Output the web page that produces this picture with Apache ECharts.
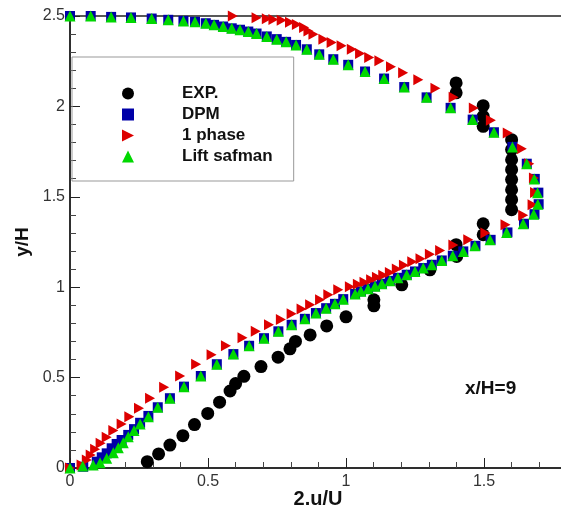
<!DOCTYPE html>
<html>
<head>
<meta charset="utf-8">
<script src="https://cdn.jsdelivr.net/npm/echarts@6/dist/echarts.min.js"></script>
<style>
  html, body { margin: 0; padding: 0; background: #fff; }
  #chart { width: 561px; height: 508px; }
</style>
</head>
<body>
<div id="chart"></div>
<script>
// series names, same order as the legend
const seriesNames = ['EXP.', 'DPM', '1 phase', 'Lift safman']

// EXP. (black circles) [2.u/U, y/H]
const expData = [
  [0.28, 0.035], [0.321, 0.078], [0.362, 0.127], [0.409, 0.179], [0.451, 0.24],
  [0.499, 0.302], [0.542, 0.364], [0.58, 0.426], [0.6, 0.467], [0.63, 0.507],
  [0.692, 0.561], [0.754, 0.613], [0.797, 0.659], [0.817, 0.7], [0.87, 0.736],
  [0.93, 0.786], [1.0, 0.836], [1.101, 0.897], [1.101, 0.93], [1.202, 1.013],
  [1.304, 1.096], [1.401, 1.17], [1.399, 1.235], [1.497, 1.29], [1.497, 1.351],
  [1.6, 1.429], [1.6, 1.484], [1.6, 1.539], [1.6, 1.595], [1.6, 1.65],
  [1.6, 1.705], [1.6, 1.761], [1.6, 1.816], [1.497, 1.89], [1.497, 1.945],
  [1.497, 2.004], [1.399, 2.075], [1.399, 2.13],
]

// DPM (blue squares)
const dpmData = [
  [0.0, 2.5], [0.075, 2.5], [0.149, 2.495], [0.221, 2.492], [0.296, 2.486],
  [0.356, 2.479], [0.411, 2.473], [0.453, 2.468], [0.492, 2.46], [0.522, 2.451],
  [0.555, 2.442], [0.586, 2.432], [0.616, 2.424], [0.646, 2.414], [0.676, 2.403],
  [0.713, 2.387], [0.749, 2.372], [0.783, 2.357], [0.819, 2.34], [0.858, 2.316],
  [0.903, 2.288], [0.954, 2.261], [1.008, 2.23], [1.069, 2.193], [1.138, 2.154],
  [1.211, 2.107], [1.292, 2.05], [1.379, 1.992], [1.459, 1.927], [1.536, 1.857],
  [1.603, 1.776], [1.655, 1.683], [1.684, 1.599], [1.697, 1.523], [1.698, 1.459],
  [1.683, 1.404], [1.645, 1.351], [1.585, 1.303], [1.524, 1.262], [1.469, 1.229],
  [1.425, 1.198], [1.387, 1.174], [1.347, 1.148], [1.311, 1.124], [1.28, 1.106],
  [1.25, 1.087], [1.22, 1.069], [1.188, 1.052], [1.159, 1.035], [1.13, 1.019],
  [1.105, 1.005], [1.08, 0.991], [1.054, 0.977], [1.033, 0.963], [0.99, 0.934],
  [0.96, 0.908], [0.928, 0.884], [0.891, 0.857], [0.851, 0.825], [0.803, 0.792],
  [0.755, 0.756], [0.703, 0.718], [0.649, 0.676], [0.592, 0.63], [0.532, 0.574],
  [0.474, 0.509], [0.413, 0.45], [0.362, 0.386], [0.318, 0.336], [0.284, 0.288],
  [0.254, 0.25], [0.232, 0.215], [0.211, 0.183], [0.187, 0.155], [0.169, 0.133],
  [0.151, 0.109], [0.133, 0.081], [0.115, 0.059], [0.097, 0.035], [0.048, 0.007],
  [0.0, 0.0],
]

// 1 phase (red triangles)
const onePhaseData = [
  [0.59, 2.5], [0.676, 2.49], [0.713, 2.485], [0.737, 2.481], [0.767, 2.477],
  [0.797, 2.466], [0.822, 2.453], [0.848, 2.436], [0.864, 2.417], [0.882, 2.399],
  [0.918, 2.372], [0.948, 2.353], [0.984, 2.335], [1.021, 2.316], [1.051, 2.292],
  [1.084, 2.27], [1.121, 2.252], [1.163, 2.219], [1.207, 2.186], [1.262, 2.147],
  [1.324, 2.1], [1.39, 2.05], [1.463, 1.991], [1.525, 1.923], [1.586, 1.853],
  [1.637, 1.766], [1.664, 1.683], [1.681, 1.604], [1.685, 1.524], [1.676, 1.456],
  [1.642, 1.398], [1.578, 1.346], [1.505, 1.3], [1.443, 1.262], [1.389, 1.233],
  [1.341, 1.203], [1.304, 1.182], [1.27, 1.158], [1.24, 1.141], [1.21, 1.121],
  [1.184, 1.1], [1.159, 1.081], [1.135, 1.066], [1.112, 1.055], [1.091, 1.041],
  [1.067, 1.027], [1.043, 1.016], [1.014, 1.002], [0.972, 0.986], [0.936, 0.958],
  [0.906, 0.93], [0.87, 0.903], [0.839, 0.879], [0.803, 0.853], [0.764, 0.822],
  [0.721, 0.792], [0.673, 0.757], [0.625, 0.721], [0.565, 0.676], [0.513, 0.626],
  [0.457, 0.574], [0.399, 0.509], [0.341, 0.447], [0.29, 0.386], [0.25, 0.331],
  [0.215, 0.284], [0.187, 0.244], [0.157, 0.207], [0.133, 0.17], [0.111, 0.137],
  [0.091, 0.104], [0.075, 0.072], [0.061, 0.044], [0.042, 0.017], [0.0, 0.0],
]

// Lift safman (green triangles)
const liftData = [
  [0.0, 2.5], [0.075, 2.5], [0.149, 2.495], [0.221, 2.492], [0.296, 2.486],
  [0.356, 2.479], [0.411, 2.473], [0.453, 2.468], [0.492, 2.46], [0.522, 2.451],
  [0.555, 2.442], [0.586, 2.432], [0.616, 2.424], [0.646, 2.414], [0.676, 2.403],
  [0.713, 2.387], [0.749, 2.372], [0.783, 2.357], [0.819, 2.34], [0.858, 2.316],
  [0.903, 2.288], [0.954, 2.261], [1.008, 2.23], [1.069, 2.193], [1.138, 2.154],
  [1.211, 2.107], [1.292, 2.05], [1.379, 1.992], [1.459, 1.927], [1.536, 1.857],
  [1.603, 1.776], [1.655, 1.683], [1.682, 1.599], [1.694, 1.523], [1.695, 1.459],
  [1.68, 1.404], [1.642, 1.351], [1.582, 1.303], [1.522, 1.262], [1.467, 1.229],
  [1.425, 1.198], [1.387, 1.174], [1.347, 1.148], [1.311, 1.124], [1.28, 1.106],
  [1.25, 1.087], [1.22, 1.069], [1.188, 1.052], [1.159, 1.035], [1.13, 1.019],
  [1.105, 1.005], [1.08, 0.991], [1.054, 0.977], [1.033, 0.963], [0.99, 0.934],
  [0.96, 0.908], [0.928, 0.884], [0.891, 0.857], [0.851, 0.825], [0.803, 0.792],
  [0.755, 0.756], [0.703, 0.718], [0.649, 0.676], [0.592, 0.63], [0.532, 0.574],
  [0.474, 0.509], [0.413, 0.45], [0.362, 0.386], [0.318, 0.336], [0.284, 0.284],
  [0.254, 0.244], [0.232, 0.207], [0.211, 0.173], [0.193, 0.14], [0.175, 0.112],
  [0.157, 0.085], [0.133, 0.054], [0.109, 0.029], [0.084, 0.017], [0.046, 0.011],
  [0.0, 0.0],
]

const font = 'Liberation Sans'
const axisColor = '#222'
// right pointing triangle, also used as legend icon
const rightTriangle = 'path://M0,0L10,5L0,10Z'

const chart = echarts.init(document.getElementById('chart'))

chart.setOption({
  animation: false,
  textStyle: { fontFamily: font },
  title: {
    text: 'x/H=9',
    left: 460,
    top: 374,
    textStyle: { fontSize: 19, fontWeight: 'bold', color: '#111', fontFamily: font },
  },
  legend: {
    orient: 'vertical',
    left: 72,
    top: 57,
    padding: [28, 21, 16, 50],
    itemWidth: 12,
    itemHeight: 12,
    itemGap: 4,
    borderColor: '#999',
    borderWidth: 1,
    selectedMode: false,
    data: seriesNames,
    textStyle: {
      fontSize: 17,
      fontWeight: 'bold',
      color: '#111',
      fontFamily: font,
      padding: [0, 0, 0, 43],
      width: 95,
    },
  },
  // x max is 2 but the canvas cuts it near 1.78, like the picture
  grid: {
    show: true,
    outerBoundsMode: 'none',
    left: 70,
    right: -61,
    top: 16,
    bottom: 40,
    borderColor: axisColor,
    borderWidth: 1.5,
  },
  xAxis: {
    type: 'value',
    min: 0,
    max: 2,
    interval: 0.5,
    name: '2.u/U',
    nameLocation: 'middle',
    nameGap: 21,
    nameMoveOverlap: false,
    // shift the name left so it sits under the visible part of the axis
    nameTextStyle: {
      fontSize: 20, fontWeight: 'bold', color: '#111', fontFamily: font,
      padding: [0, 56, 0, 0],
    },
    axisLine: { lineStyle: { color: axisColor, width: 1.5 } },
    axisTick: { inside: true, length: 10, lineStyle: { color: axisColor } },
    minorTick: { show: true, splitNumber: 5, length: 6, lineStyle: { color: '#444' } },
    axisLabel: { fontSize: 16, color: '#333', margin: 6 },
    splitLine: { show: false },
  },
  yAxis: {
    type: 'value',
    min: 0,
    max: 2.5,
    interval: 0.5,
    name: 'y/H',
    nameLocation: 'middle',
    nameGap: 31,
    nameTextStyle: { fontSize: 19, fontWeight: 'bold', color: '#111', fontFamily: font },
    axisLine: { lineStyle: { color: axisColor, width: 1.5 } },
    axisTick: { inside: true, length: 10, lineStyle: { color: axisColor } },
    minorTick: { show: true, splitNumber: 5, length: 6, lineStyle: { color: '#444' } },
    axisLabel: { fontSize: 16, color: '#333', margin: 5 },
    splitLine: { show: false },
  },
  series: [
    {
      name: seriesNames[0],
      type: 'scatter',
      clip: false,
      symbol: 'circle',
      symbolSize: 13,
      itemStyle: { color: '#000', opacity: 1 },
      data: expData,
    },
    {
      name: seriesNames[1],
      type: 'scatter',
      clip: false,
      symbol: 'rect',
      symbolSize: 10,
      itemStyle: { color: '#0000a8', opacity: 1 },
      data: dpmData,
    },
    {
      name: seriesNames[2],
      type: 'scatter',
      clip: false,
      symbol: rightTriangle,
      symbolSize: [10, 11],
      itemStyle: { color: '#dd0000', opacity: 1 },
      data: onePhaseData,
    },
    {
      name: seriesNames[3],
      type: 'scatter',
      clip: false,
      symbol: 'triangle',
      symbolSize: 11,
      itemStyle: { color: '#00d800', opacity: 1 },
      data: liftData,
    },
  ],
})
</script>
</body>
</html>
